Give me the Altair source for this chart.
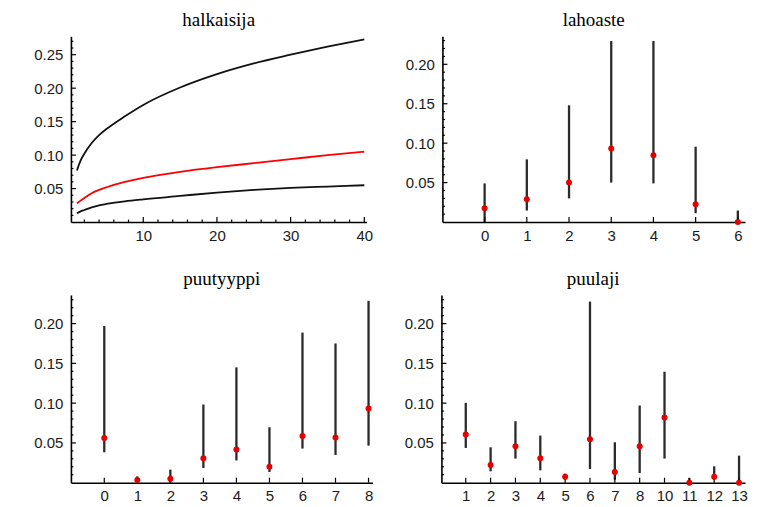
import altair as alt
import pandas as pd

FONT_T = "Liberation Serif"
FONT_L = "Liberation Sans"

# ---------------- data ----------------
halk_x = [1, 1.5, 2, 3, 4, 5, 7.5, 10, 15, 20, 25, 30, 35, 40]
halk_upper = [0.077, 0.092, 0.102, 0.118, 0.130, 0.139, 0.158, 0.175, 0.201, 0.221, 0.237, 0.250, 0.262, 0.273]
halk_mid = [0.028, 0.032, 0.036, 0.043, 0.048, 0.052, 0.060, 0.066, 0.075, 0.082, 0.088, 0.094, 0.100, 0.105]
halk_lower = [0.013, 0.016, 0.018, 0.022, 0.025, 0.027, 0.031, 0.034, 0.039, 0.044, 0.048, 0.051, 0.053, 0.055]

laho_cat = [0, 1, 2, 3, 4, 5, 6]
laho_est = [0.0176, 0.0290, 0.0500, 0.0934, 0.0846, 0.0226, 0.0000]
laho_lo = [0.0000, 0.0146, 0.0300, 0.0500, 0.0490, 0.0112, 0.0000]
laho_hi = [0.0490, 0.0795, 0.1480, 0.2295, 0.2295, 0.0955, 0.0146]

tyyppi_cat = [0, 1, 2, 3, 4, 5, 6, 7, 8]
tyyppi_est = [0.0563, 0.0034, 0.0050, 0.0307, 0.0416, 0.0202, 0.0588, 0.0567, 0.0933]
tyyppi_lo = [0.0382, 0.0000, 0.0000, 0.0185, 0.0280, 0.0134, 0.0429, 0.0349, 0.0466]
tyyppi_hi = [0.1970, 0.0080, 0.0164, 0.0983, 0.1450, 0.0697, 0.1887, 0.1750, 0.2286]

laji_labels = ["1", "2", "3", "4", "5", "6", "7", "8", "10", "11", "12", "13"]
laji_est = [0.0605, 0.0223, 0.0458, 0.0307, 0.0076, 0.0546, 0.0134, 0.0458, 0.0819, 0.0000, 0.0076, 0.0000]
laji_lo = [0.0437, 0.0143, 0.0303, 0.0155, 0.0038, 0.0172, 0.0038, 0.0122, 0.0303, 0.0000, 0.0038, 0.0000]
laji_hi = [0.1004, 0.0445, 0.0773, 0.0592, 0.0113, 0.2277, 0.0508, 0.0970, 0.1395, 0.0059, 0.0206, 0.0340]

# tick lists
halk_y_major = [0.05, 0.10, 0.15, 0.20, 0.25]
halk_y_minor = [round(i * 0.01, 2) for i in range(1, 28) if i % 5]
halk_x_major = [10, 20, 30, 40]
halk_x_minor = [i for i in range(2, 40, 2) if i % 10]
cat_y_major = [0.05, 0.10, 0.15, 0.20]
cat_y_minor = [round(i * 0.01, 2) for i in range(1, 24) if i % 5]


def axes(xvals, yvals, label_expr=None, xfmt=None):
    xa = dict(values=xvals, title=None, grid=False, ticks=False, tickSize=0, domain=True,
              domainColor="black", domainWidth=1.6, labelFont=FONT_L, labelFontSize=15,
              labelColor="#1a1a1a", labelPadding=6, labelFlush=False, labelOverlap=False)
    if label_expr:
        xa["labelExpr"] = label_expr
    if xfmt:
        xa["format"] = xfmt
    ya = dict(values=yvals, title=None, grid=False, ticks=False, tickSize=0, domain=True,
              domainColor="black", domainWidth=1.6, labelFont=FONT_L, labelFontSize=15,
              labelColor="#1a1a1a", labelPadding=8, format=".2f", labelOverlap=False)
    return alt.Axis(**xa), alt.Axis(**ya)


def tick_layers(xs, ys, xa, ya, h, x_major, x_minor, y_major, y_minor):
    out = []
    for vals, ln in ((y_major, 5), (y_minor, 2.5)):
        out.append(alt.Chart(pd.DataFrame({"v": vals})).mark_rule(color="black", strokeWidth=1.2).encode(
            y=alt.Y("v:Q", scale=ys, axis=ya), x=alt.value(0), x2=alt.value(ln)))
    for vals, ln in ((x_major, 5), (x_minor, 2.5)):
        if vals:
            out.append(alt.Chart(pd.DataFrame({"v": vals})).mark_rule(color="black", strokeWidth=1.2).encode(
                x=alt.X("v:Q", scale=xs, axis=xa), y=alt.value(h), y2=alt.value(h - ln)))
    return out


def title(t):
    return alt.TitleParams(t, font=FONT_T, fontSize=19, fontWeight="normal", color="black",
                           anchor="middle", offset=6)


def ci_panel(name, pos, est, lo, hi, xdom, ydom, w, h, xvals, label_expr=None):
    df = pd.DataFrame({"x": pos, "est": est, "lo": lo, "hi": hi})
    xs = alt.Scale(domain=xdom, nice=False, zero=False)
    ys = alt.Scale(domain=ydom, nice=False, zero=False)
    xa, ya = axes(xvals, cat_y_major, label_expr)
    base = alt.Chart(df)
    bars = base.mark_rule(color="#2b2b2b", strokeWidth=2.3).encode(
        x=alt.X("x:Q", scale=xs, axis=xa), y=alt.Y("lo:Q", scale=ys, axis=ya), y2="hi:Q")
    pts = base.mark_circle(color="#e50000", size=36, opacity=1).encode(
        x=alt.X("x:Q", scale=xs, axis=xa), y=alt.Y("est:Q", scale=ys, axis=ya))
    ticks = tick_layers(xs, ys, xa, ya, h, xvals, [], cat_y_major, cat_y_minor)
    return alt.layer(bars, *ticks, pts).properties(width=w, height=h, title=title(name))


# panel 1: halkaisija
hdf = pd.DataFrame({
    "x": halk_x * 3,
    "y": halk_upper + halk_mid + halk_lower,
    "s": ["upper"] * len(halk_x) + ["mid"] * len(halk_x) + ["lower"] * len(halk_x),
})
xs1 = alt.Scale(domain=[0.18, 40.3], nice=False, zero=False)
ys1 = alt.Scale(domain=[0, 0.2775], nice=False, zero=False)
xa1, ya1 = axes(halk_x_major, halk_y_major, xfmt="d")
H1 = 186
lines = alt.Chart(hdf).mark_line(strokeWidth=1.8, interpolate="monotone").encode(
    x=alt.X("x:Q", scale=xs1, axis=xa1),
    y=alt.Y("y:Q", scale=ys1, axis=ya1),
    color=alt.Color("s:N", scale=alt.Scale(domain=["upper", "mid", "lower"],
                                           range=["#111111", "#ff0000", "#111111"]), legend=None),
    detail="s:N",
)
p1 = alt.layer(lines, *tick_layers(xs1, ys1, xa1, ya1, H1, halk_x_major, halk_x_minor,
                                   halk_y_major, halk_y_minor)
               ).properties(width=296, height=H1, title=title("halkaisija"))

p2 = ci_panel("lahoaste", laho_cat, laho_est, laho_lo, laho_hi,
              [-1, 6.17], [0, 0.2355], 303, 186, laho_cat)
p3 = ci_panel("puutyyppi", tyyppi_cat, tyyppi_est, tyyppi_lo, tyyppi_hi,
              [-1.01, 8.12], [0, 0.236], 302, 188, tyyppi_cat)
laji_pos = list(range(1, len(laji_labels) + 1))
expr = "[''," + ",".join("'%s'" % s for s in laji_labels) + "][datum.value]"
p4 = ci_panel("puulaji", laji_pos, laji_est, laji_lo, laji_hi,
              [0.02, 12.24], [0, 0.236], 304, 188, laji_pos, label_expr=expr)

chart = alt.vconcat(
    alt.hconcat(p1, p2, spacing=31),
    alt.hconcat(p3, p4, spacing=30),
    spacing=27,
).properties(
    padding={"left": 25, "top": 2, "right": 5, "bottom": 5},
    background="white",
).configure_view(stroke=None)

chart.save("out.html", embed_options={"renderer": "svg", "actions": False})
